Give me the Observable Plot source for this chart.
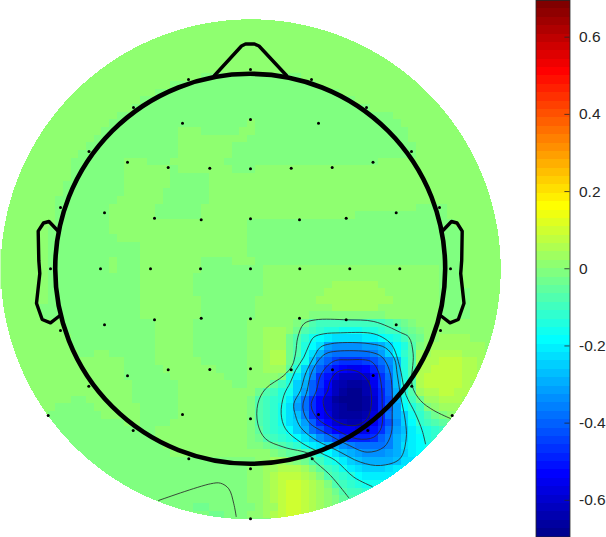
<!DOCTYPE html>
<html>
<head>
<meta charset="utf-8">
<script src="https://cdn.jsdelivr.net/npm/d3@7"></script>
<script src="https://cdn.jsdelivr.net/npm/@observablehq/plot@0.6"></script>
<style>
html,body{margin:0;padding:0;background:#fff}
#chart{display:flex;width:606px;height:537px;overflow:hidden}
#chart svg{display:block;flex:none}
</style>
</head>
<body>
<div id="chart"></div>
<script>
// Colour-bar tick values
const tickValues = [-0.6, -0.4, -0.2, 0, 0.2, 0.4, 0.6];
const colorLimit = 0.695;
const levelCount = 64;
// Each character is one map cell: its colour-bar level (1..64)
const levelKey = ".0123456789abcdefghijklmnopqrstuvwxyz";
const blank = "vvvvvvvvvv vvvvvvvvvv vvvvvvvvvv vvvvvvvvvv vvvvvvvvvv vvvvvvvvvv vvvvvvv";
const U = "uuuuuuuuuu", V = "vvvvvvvvvv";
const levelRows = [
blank,blank,blank,blank,blank,blank,blank,blank,
`${V} ${V} vvvvvvvuuu ${U} ${V} ${V} vvvvvvv`,
`${V} ${V} vvvuuuuuuu ${U} uuvvvvvvvv ${V} vvvvvvv`,
`${V} ${V} vuuuuuuuuu ${U} uuuuuvvvvv ${V} vvvvvvv`,
`${V} vvvvvvvvvu ${U} ${U} uuuuuuuvvv ${V} vvvvvvv`,
`${V} vvvvvvvvuu ${U} ${U} uuuuuuuuuv ${V} vvvvvvv`,
`${V} vvvvvvuuuu ${U} ${U} ${U} uuvvvvvvvv vvvvvvv`,
`${V} vvvvvuuuuu ${U} uuuvuuuuuu ${U} uuuvvvvvvv vvvvvvv`,
`${V} vvvvuuuuuu uuuuvvvuuu uuvvuuuuuu ${U} uuuuvvvvvv vvvvvvv`,
`${V} vvvuuuuuuu uuuuvvvvvv vvvuuuuuuu ${U} uuuuvvvvvv vvvvvvv`,
`${V} vvuuuuuuuu uuuuvvvvvv vuuuuuuuuu ${U} uuuuuvvvvv vvvvvvv`,
`${V} vuuuuuuuuu uuuuvvvvvv vuuuuuuuuu ${U} uuuuuvvvvv vvvvvvv`,
`${V} uuuuuuuvvv uuuvvvvvvv ${U} ${U} ${V} vvvvvvv`,
`${V} uuuuuuuvvv vvvuvvvvvv vuuuvvvvvv ${V} ${V} vvvvvvv`,
`${V} uuuuuuuvvv vvvuuuuuvv ${V} ${V} ${V} vvvvvvv`,
`vvvvvvvvvu uuuuuuuvvv vvvuuuuuvv ${V} ${V} ${V} vvvvvvv`,
`vvvvvvvvvu uuuuuuuvvv vvuuuuuuvv ${V} ${V} ${V} vvvvvvv`,
`vvvvvvvvuu uuuuuuvvvv vvuuuuuuvv ${V} ${V} ${V} vvvvvvv`,
`vvvvvvvvuu uuuuuvvvvv vuuuuuuvvv ${V} ${V} vvvvvuuuuv vvvvvvv`,
`vvvvvvvvuu uuuuuvvvvv vuuuuuuvvv ${V} vvvvvvvuuu uuuuuuuuuv vvvvvvv`,
`vvvvvvvvuu uuuuuvvvvv ${V} vvvuuuuuuu ${U} ${U} vvvvvvv`,
`vvvvvvvuuu uuuuuvvvvv ${V} vvvuuuuuuu ${U} ${U} uvvvvvv`,
`vvvvvvvuuu uuuuuuvvvv ${V} vvvuuuuuuu ${U} ${U} uvvvvvv`,
`vvvvvvvuuu uuuuuuuuuv ${V} vvvuuuuuuu ${U} ${U} uvvvvvv`,
`vvvvvvvuuu uuuuuuuuuv ${V} vvvuuuuuuu ${U} ${U} uvvvvvv`,
`vvvvvvvuuu uuuuuvuuuv vvvvvvvuuu uvvvuuuuuu ${U} ${U} uvvvvvv`,
`vvvvvvvuuu uuuuuvuuuv vvvvvvvuuu uuuuuvvvvv ${V} vvvvvvvvuu uvvvvvv`,
`vvvvvvvuuu uuuuuuuuuv vvvvvvuuuu uuuuuvvvvv ${V} vvvvvvvvuu uvvvvvv`,
`vvvvvvvuuu uuuuuuuuuv vvvvvvuuuu uuuuuvvvvv vvvvwwwwww vvvvvvvvuu uvvvvvv`,
`vvvvvvvuuu uuuuuuuuuv vvvvvvuuuu uuuuuvvvvv vvvwwwwwww wvvvvvvvuu uuvvvvv`,
`vvvvvvvuuu uuuuuuuuuv vvvvvvvuuu uuuuvvvvvv vvwwwwwwww wwvvvvvvuu uuvvvvv`,
`vvvvvvuuuu uuuuuuuuuv vvvvvvvuuu uuuuvvvvvv vvvvwwwwww vvvvvvvvuu uuvvvvv`,
`vvvvvvuuuu uuuuuuuuuv vvvvvvvuuu uuuuvvvvvv vuuuuuuuuu uvvvvvvvuu uuvvvvv`,
`vvvvvvvvvu ${U} uvvvvvuuuu uuuvvvvvvu trqqqqqqqq qrstuvvvvv vvvvvvv`,
`vvvvvvvvvu ${U} uvvvvvuuuu uuuvvwwwvt rqpoonnnoo pqqstuvvvv vvvvvvv`,
`${V} ${U} uvvvvvuuuu uuuvvwwwtr pnmlkkkkll mnoqstvvww wwvvvvv`,
`${V} ${U} uvvvvvuuuu uuuvvwwwtr omkgffffgg hjmoruvwww wwwwvvv`,
`${V} vuuvvuuuuu uvvvvvuuuu uuuvvwxxtr nkheddddde gjmprwwxxx xwwwvvv`,
`${V} vvvvvvvuuu uvvvvvvuuu uuuvvwxxtq nieca999ab dfiorwxxyy yxxwvvv`,
`${V} vvvvvvvuuu uuvvvvvvvu uuuvvwwwso jfc9765568 beiorxxyyy yxxwvvv`,
`${V} vvvvvvvuuu uuuvvvvvvv uuuvvvvuol ie97422236 9diorxyyyy yxxwvvv`,
`${V} vvvvvvvvuu uuuuvvvvvv vuuvvvsqoj hc96210015 9ciorxyyyy yxwvvvv`,
`${V} vvvvvvvvuu uuuuvvvvvv vvvvtrqonj gc8520..14 8chorwxxyy xxwvvvv`,
`${V} uuvvvvvvuu uuuuvvvvvv vvvurqpolh d9630...03 8bhnqtwwxx xwwvvvv`,
`vvvvvvvvuu uuuvvvvvvu uuuuvvvvvv vvvurqpnkg d96310..03 8cgmoquvww wvvvvvv`,
`vvvvvvvuuu uuuuvvvvvu uuuuvvvvvv vvvurqpnki e964100014 8dgjnprtuv vuvvvvv`,
`vvvvvvvuuu uuuuuuuvvu uuuvvvvvvv vvvurqpnkj gc86321135 8bfjmpqrst uuuuuuu`,
`vvvvvvvvuu ${U} uvvvvvvvvv vvvusqpomj hdb8655457 9dgilnopqr sssssss`,
`vvvvvvvvuu ${U} uvvvvvvvvv vvvutrqpom kifdb98889 cehjlmopqq qqqqqqq`,
`vvvvvvvvuu ${U} uuvvvvvvvv vvvuutsrqp nlkihfeddd dehklmnnnn nnnnnnn`,
`vvvvvvvvuu ${U} uuuvvvvvvv vvvvvvutss rqomkihgff fghjlmmmmm mmmmmmm`,
`${U} ${U} ${U} uuuuvvwwvu trqonljihh hhikkkkkkk kkkkkkk`,
`${U} ${U} ${U} uuuvvwwxxx wusqpnlkjj jkllllllll lllllll`,
`${U} ${U} ${U} uuuvvwxyyy xwurqpomll llllllllll lllllll`,
`${U} ${U} ${U} uuuvvwxyzz yxwurqponn nnnnnnnnnn nnnnnnn`,
`${U} ${U} ${U} uuuvvwxyzz yxwvtrqqpp pppppppppp ppppppp`,
`${U} ${U} ${U} uuuvvwxyzz yxwvusrrrr rrrrrrrrrr rrrrrrr`,
`${U} ${U} uuuuuuttuu uuuuvwwyzz yxwvuttttt tttttttttt ttttttt`,
`${U} ${U} uuuuuuuutt uuuvvwxyzz yxwvuttttt tttttttttt ttttttt`,
`${U} ${U} ${U} ${U} ${U} ${U} uuuuuuu`
].map(r => r.replace(/ /g, ""));

// Electrode positions (image pixels)
const electrodes = [
[250,69],[188,79],[311,79],[133,107],[366,107],[88.5,151],[411,151],[60,207],[439,207],
[50,268.3],[450,268.3],[60,330],[440,330],[250,119],[182,122.7],[318,122.7],
[127,161.7],[372.5,161.7],[167.7,167],[331.7,167],[209.3,167.7],[290.7,167.7],[250,168.3],
[104,212.3],[395.7,212.3],[154,217.7],[345.7,217.7],[200.7,219.3],[299,219.3],[250,218.3],
[100,268.3],[150,268.3],[200,268.3],[250,268.3],[299.3,268.3],[349.3,268.3],[399.3,268.3],
[104,324.3],[395.7,324.3],[154,319.3],[345.7,319.3],[200.7,317.7],[299,317.7],[250,318.3],
[127,375.3],[372.7,375],[167.7,369.3],[332,369.3],[209.3,369],[290.7,369.3],[250,368.3],
[88.3,385.7],[411.3,385.7],[47.7,415],[451.7,415],[182,414],[318,414],[250,418.3],
[132.7,430],[367.3,430],[188.3,458.3],[311.7,458.3],[250,468.3],[250,518.3]
];
const nose = [[214,75],[241,45.5],[245,43.5],[254,43.5],[258.5,45.5],[286,75]];
const leftEar = [[58.5,231.5],[48.5,221],[43,222.5],[37.7,230.7],[38.3,260],[39.3,273],[36,302.7],[41.7,319],[50,322.3],[59.5,315]];
const rightEar = [[441,231.5],[451,221],[456.5,222.5],[461.7,230.7],[461.2,260],[460.2,273],[463.5,302.7],[457.8,319],[449.5,322.3],[440,315]];
const headOutline = [{x: -0.3, y: 0.3, r: 195}];

const contour1 = [[325,622],[270,555],[215,505],[205,490],[130,470],[75,445],[52,400],[52,340],[75,295],[130,255],[155,225],[165,190],[172,140],[190,100],[225,88],[320,88],[400,93],[480,126],[505,140],[518,190],[515,285],[540,330],[580,360],[630,384]];
const contour2 = [[395,588],[340,560],[285,510],[240,487],[180,455],[135,415],[122,370],[130,315],[150,275],[165,240],[190,200],[205,165],[220,140],[250,130],[300,127],[390,128],[425,140],[455,165],[478,230],[490,290],[497,315],[525,370],[545,420],[555,460]];
const contour3 = [[180,300],[195,250],[220,200],[240,170],[270,160],[320,156],[390,160],[435,172],[462,205],[470,250],[480,315],[495,395],[497,445],[478,505],[420,525],[360,515],[290,480],[220,445],[180,410],[165,375],[160,340]];
const contour4 = [[187,350],[200,300],[210,255],[230,215],[255,190],[290,182],[390,185],[425,200],[447,240],[455,300],[455,370],[452,430],[430,470],[380,485],[320,462],[260,430],[205,395]];
const contour5 = [[212,345],[228,300],[240,255],[262,225],[285,210],[320,208],[390,212],[410,235],[422,280],[425,340],[423,410],[400,440],[350,445],[290,420],[232,385]];
const contour6 = [[248,330],[262,300],[270,270],[290,245],[320,238],[355,245],[385,275],[392,310],[392,345],[380,385],[345,405],[300,398],[260,370]];
// Contour at the lower left, image pixels
const contour7 = [[158,500],[210,483.3],[220,482.7],[228.3,488.3],[233.3,503.3],[235.7,516]];

const fromImage = ([x, y]) => ({x: x - 250, y: y - 268});
const fromCrop = ([x, y]) => ({x: x / 3 - 10, y: y / 3 + 22});

const cell = 7.67;
const levelValue = l => (l - 0.5) / levelCount * 2 * colorLimit - colorLimit;
const jetChannel = t => Math.max(0, Math.min(1, 1.5 - Math.abs(4 * t)));
const jet = d3.range(1, levelCount + 1).map(n => {
  const t = n / levelCount;
  const r = jetChannel(t - 0.75), g = jetChannel(t - 0.5), b = jetChannel(t - 0.25);
  return d3.rgb(r * 255, g * 255, b * 255).formatHex();
});
const thresholds = d3.range(1, levelCount).map(l => l / levelCount * 2 * colorLimit - colorLimit);
const colorScale = {type: "threshold", domain: thresholds, range: jet};

function sample(x, y) {
  const dx = x + 0.3, dy = y - 0.3;
  if (dx * dx + dy * dy > 250 * 250) return NaN;
  const row = levelRows[Math.round(y / cell) + 33];
  const ch = row && row[Math.round(x / cell) + 33];
  if (!ch) return NaN;
  return levelValue(levelKey.indexOf(ch) + 1);
}

const lineOpts = {x: "x", y: "y", stroke: "#2a2a2a", strokeWidth: 0.85};
const map = Plot.plot({
  width: 535, height: 537, margin: 0,
  x: {domain: [-250, 285], range: [0, 535], axis: null},
  y: {domain: [-268, 269], range: [0, 537], axis: null},
  r: {type: "identity"},
  color: colorScale,
  style: {background: "transparent"},
  marks: [
    Plot.raster({fill: sample, x1: -250, x2: 285, y1: -268, y2: 269, pixelSize: 1, imageRendering: "pixelated"}),
    Plot.line(contour1.map(fromCrop), {...lineOpts, curve: "catmull-rom"}),
    Plot.line(contour2.map(fromCrop), {...lineOpts, curve: "catmull-rom"}),
    Plot.line(contour3.map(fromCrop), {...lineOpts, curve: "catmull-rom-closed"}),
    Plot.line(contour4.map(fromCrop), {...lineOpts, curve: "catmull-rom-closed"}),
    Plot.line(contour5.map(fromCrop), {...lineOpts, curve: "catmull-rom-closed"}),
    Plot.line(contour6.map(fromCrop), {...lineOpts, curve: "catmull-rom-closed"}),
    Plot.line(contour7.map(fromImage), {...lineOpts, curve: "catmull-rom"}),
    Plot.dot(headOutline, {x: "x", y: "y", r: "r", stroke: "#000", strokeWidth: 4.6, fill: "none"}),
    Plot.line(nose.map(fromImage), {x: "x", y: "y", stroke: "#000", strokeWidth: 3.4, curve: "linear"}),
    Plot.line(leftEar.map(fromImage), {x: "x", y: "y", stroke: "#000", strokeWidth: 3.4}),
    Plot.line(rightEar.map(fromImage), {x: "x", y: "y", stroke: "#000", strokeWidth: 3.4}),
    Plot.dot(electrodes.map(fromImage), {x: "x", y: "y", r: 1.5, fill: "#000", stroke: "none"})
  ]
});

const levels = d3.range(1, levelCount + 1);
const bar = Plot.plot({
  width: 71, height: 537,
  marginLeft: 0.5, marginRight: 36.5, marginTop: 0, marginBottom: 0.5,
  x: {domain: [0, 1], axis: null},
  y: {domain: [-colorLimit, colorLimit], axis: null},
  color: colorScale,
  style: {background: "transparent"},
  marks: [
    Plot.rect(levels, {
      x1: 0, x2: 1,
      y1: l => (l - 1) / levelCount * 2 * colorLimit - colorLimit,
      y2: l => l / levelCount * 2 * colorLimit - colorLimit,
      fill: l => levelValue(l),
      shapeRendering: "crispEdges"
    }),
    Plot.ruleY(tickValues, {x1: 0.85, x2: 1, stroke: "#262626", strokeWidth: 0.8}),
    Plot.frame({stroke: "#262626", strokeWidth: 0.8}),
    Plot.text(tickValues, {
      x: 1, y: d => d, text: d => String(d), dx: 9, textAnchor: "start",
      fontFamily: "'Liberation Sans', Arial, sans-serif", fontSize: 15.5, fill: "#262626"
    })
  ]
});

document.getElementById("chart").append(map, bar);
</script>
</body>
</html>
